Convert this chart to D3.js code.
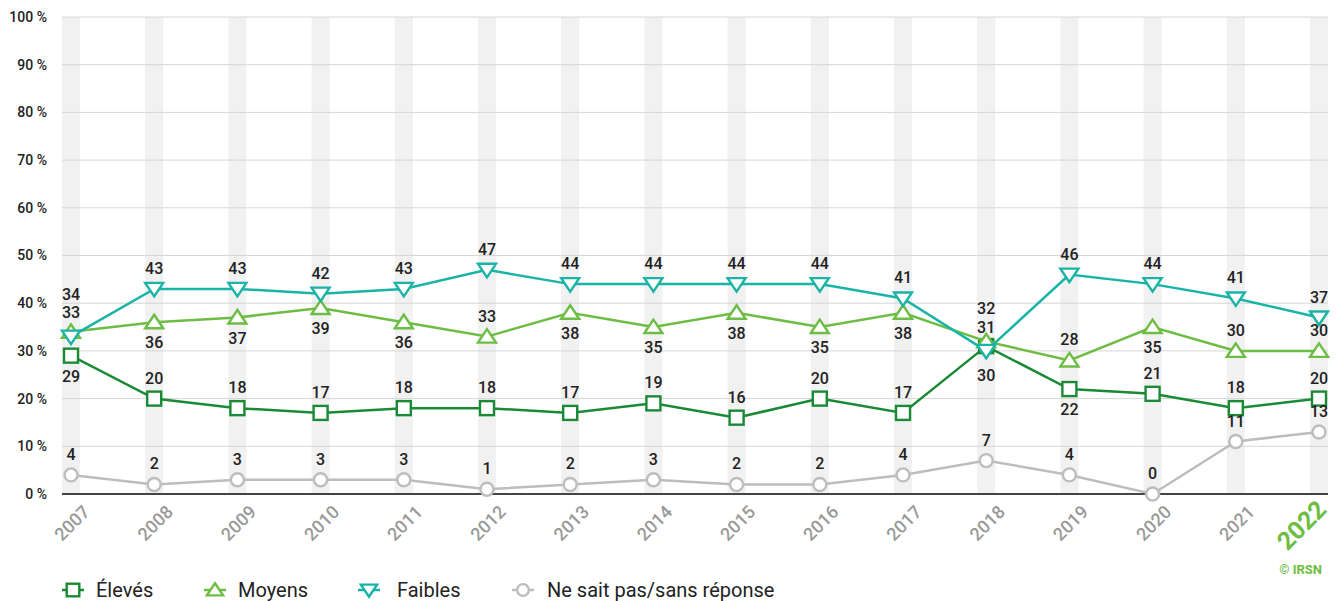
<!DOCTYPE html>
<html><head><meta charset="utf-8">
<script src="https://cdn.jsdelivr.net/npm/d3@7"></script>
<style>body{margin:0;background:#fff;}svg{display:block;font-family:Roboto,sans-serif;}</style>
</head><body>
<svg id="c" width="1341" height="601"></svg>
<script>
const years = ["2007","2008","2009","2010","2011","2012","2013","2014","2015","2016","2017","2018","2019","2020","2021","2022"];
const eleves = [29,20,18,17,18,18,17,19,16,20,17,31,22,21,18,20];
const moyens = [34,36,37,39,36,33,38,35,38,35,38,32,28,35,30,30];
const faibles = [33,43,43,42,43,47,44,44,44,44,41,30,46,44,41,37];
const nsp = [4,2,3,3,3,1,2,3,2,2,4,7,4,0,11,13];
const yTicks = [0,10,20,30,40,50,60,70,80,90,100];
// label placement: 1 = above, -1 = below
const elevesPos = [-1,1,1,1,1,1,1,1,1,1,1,1,-1,1,1,1];
const moyensPos = [1,-1,-1,-1,-1,1,-1,-1,-1,-1,-1,1,1,-1,1,1];
const faiblesPos = [1,1,1,1,1,1,1,1,1,1,1,-1,1,1,1,1];
const nspPos = [1,1,1,1,1,1,1,1,1,1,1,1,1,1,1,1];

const series = [
  {name:"Élevés", values:eleves, pos:elevesPos, color:"#1b8a36", shape:"square"},
  {name:"Moyens", values:moyens, pos:moyensPos, color:"#6dbd44", shape:"up"},
  {name:"Faibles", values:faibles, pos:faiblesPos, color:"#1ab4a7", shape:"down"},
  {name:"Ne sait pas/sans réponse", values:nsp, pos:nspPos, color:"#bdbdbd", shape:"circle"}
];

const svg = d3.select("#c");
const pLeft = 62, pRight = 1328, pTop = 17, pBottom = 494;
const x = d3.scalePoint().domain(years).range([71, 1319]);
const y = d3.scaleLinear().domain([0,100]).range([pBottom, pTop]);

// bands
svg.append("g").selectAll("rect").data(years).join("rect")
  .attr("x", d => x(d) - 9).attr("width", 18)
  .attr("y", pTop).attr("height", pBottom - pTop)
  .attr("fill", "#f1f1f1");

// grid
svg.append("g").selectAll("line").data(yTicks.filter(t => t > 0)).join("line")
  .attr("x1", pLeft).attr("x2", pRight)
  .attr("y1", d => y(d)).attr("y2", d => y(d))
  .attr("stroke", "#d6d6d6").attr("stroke-width", 1);

// y labels
svg.append("g").selectAll("text").data(yTicks).join("text")
  .attr("x", 47).attr("y", d => y(d)).attr("dy", "0.35em")
  .attr("text-anchor", "end").attr("font-size", 14).attr("font-weight", 500)
  .attr("fill", "#222").text(d => d + " %");

// baseline
svg.append("line").attr("x1", pLeft).attr("x2", pRight).attr("y1", pBottom).attr("y2", pBottom)
  .attr("stroke", "#444").attr("stroke-width", 2);

// x labels
svg.append("g").selectAll("text").data(years).join("text")
  .attr("transform", d => d === "2022"
      ? `translate(${x(d) + 9},${511}) rotate(-45)`
      : `translate(${x(d) + 20},${513}) rotate(-45)`)
  .attr("text-anchor", "end")
  .attr("font-size", d => d === "2022" ? 25 : 18)
  .attr("font-weight", d => d === "2022" ? 700 : 500)
  .attr("fill", d => d === "2022" ? "#6dbd44" : "#999").text(d => d);

function drawMarker(g, shape, color, cx, cy, scale) {
  const s = scale || 1;
  if (shape === "square") {
    g.append("rect").attr("x", cx - 7*s).attr("y", cy - 7*s).attr("width", 14*s).attr("height", 14*s)
      .attr("fill", "#fff").attr("stroke", color).attr("stroke-width", 2.4);
  } else if (shape === "up") {
    const h = 7.5*s;
    g.append("path").attr("d", `M${cx},${cy - h} L${cx + 9*s},${cy + h*0.8} L${cx - 9*s},${cy + h*0.8} Z`)
      .attr("fill", "#fff").attr("stroke", color).attr("stroke-width", 2.4);
  } else if (shape === "down") {
    const h = 7.5*s;
    g.append("path").attr("d", `M${cx},${cy + h} L${cx + 9*s},${cy - h*0.8} L${cx - 9*s},${cy - h*0.8} Z`)
      .attr("fill", "#fff").attr("stroke", color).attr("stroke-width", 2.4);
  } else {
    g.append("circle").attr("cx", cx).attr("cy", cy).attr("r", 6.5*s)
      .attr("fill", "#fff").attr("stroke", color).attr("stroke-width", 2.4);
  }
}

const line = d3.line().x((d,i) => x(years[i])).y(d => y(d));
const order = [3,0,1,2];
order.forEach(k => {
  const s = series[k];
  const g = svg.append("g");
  g.append("path").attr("d", line(s.values)).attr("fill", "none")
    .attr("stroke", s.color).attr("stroke-width", 2.5);
  s.values.forEach((v,i) => drawMarker(g, s.shape, s.color, x(years[i]), y(v)));
});

// labels
series.forEach(s => {
  s.values.forEach((v,i) => {
    let ly = s.pos[i] > 0 ? y(v) - 15 : y(v) + 26;
    if (i === 0 && s.name === "Moyens") ly = y(v) - 32;
    if (i === 0 && s.name === "Faibles") ly = y(v) - 19;
    if (i === 11 && s.name === "Moyens") ly = y(v) - 27;
    if (i === 11 && s.name === "Élevés") ly = y(v) - 13;
    if (i === 11 && s.name === "Faibles") ly = y(v) + 30;
    svg.append("text").attr("x", x(years[i])).attr("y", ly)
      .attr("text-anchor", "middle").attr("font-size", 16).attr("font-weight", 500)
      .attr("fill", "#222").text(v);
  });
});

// legend
const legC = [73, 215, 369, 523];
const legText = [96, 238, 397, 547];
series.forEach((s,i) => {
  const g = svg.append("g");
  const cy = 590;
  g.append("line").attr("x1", legC[i] - 11).attr("x2", legC[i] + 11).attr("y1", cy).attr("y2", cy)
    .attr("stroke", s.color).attr("stroke-width", 2.5);
  drawMarker(g, s.shape, s.color, legC[i], cy, 0.9);
  g.append("text").attr("x", legText[i]).attr("y", cy).attr("dy", "0.35em")
    .attr("font-size", 20).attr("fill", "#222").text(s.name);
});

svg.append("text").attr("x", 1322).attr("y", 574).attr("text-anchor", "end")
  .attr("font-size", 13).attr("font-weight", 700).attr("fill", "#6dbd44").text("© IRSN");
</script>
</body></html>
